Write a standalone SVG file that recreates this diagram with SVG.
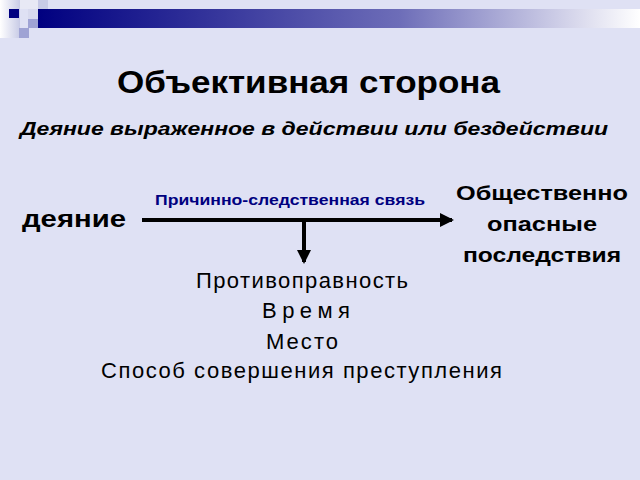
<svg xmlns="http://www.w3.org/2000/svg" width="640" height="480" viewBox="0 0 640 480">
<defs>
<linearGradient id="band" x1="0" x2="1" y1="0" y2="0"><stop offset="0" stop-color="#000080"/><stop offset="0.6" stop-color="#6d6db8"/><stop offset="1" stop-color="#ffffff"/></linearGradient>
<linearGradient id="lg" x1="0" x2="1"><stop offset="0" stop-color="#ffffff"/><stop offset="1" stop-color="#c8cbe6"/></linearGradient>
<marker id="ah" markerWidth="14" markerHeight="14" refX="12" refY="7" orient="auto" markerUnits="userSpaceOnUse" viewBox="0 0 14 14"><path d="M0,0 L14,7 L0,14 z" fill="#000"/></marker>
<style>
.b{font-family:"Liberation Sans",Arial,sans-serif;font-weight:bold;fill:#000}
.r{font-family:"Liberation Sans",Arial,sans-serif;fill:#000;font-size:22px}
</style>
</defs>
<rect width="640" height="480" fill="#dfe1f4"/>
<g id="deco">
<rect x="38" y="9" width="602" height="19" fill="url(#band)"/>
<rect x="0" y="0" width="20" height="38" fill="url(#lg)"/>
<rect x="20" y="0" width="18" height="9" fill="#e8e9f5"/>
<rect x="38" y="0" width="10" height="9" fill="#c8cbe6"/>
<rect x="28" y="9" width="10" height="10" fill="#d8daee"/>
<rect x="28" y="19" width="10" height="9" fill="#9fa3d4"/>
<rect x="19" y="28" width="10" height="10" fill="#9fa3d4"/>
<rect x="9" y="9" width="10" height="9" fill="#000080"/>
</g>
<g id="title"><text class="b" x="117" y="93" font-size="32" textLength="383" lengthAdjust="spacingAndGlyphs">Объективная сторона</text></g>
<g id="subtitle"><text class="b" x="20" y="135" font-size="19" font-style="italic" textLength="588" lengthAdjust="spacingAndGlyphs">Деяние выраженное в действии или бездействии</text></g>
<g id="node-deyanie"><text class="b" x="22" y="227" font-size="23" textLength="104" lengthAdjust="spacingAndGlyphs">деяние</text></g>
<g id="node-posl"><text class="b" font-size="21">
<tspan x="456" y="200" textLength="172" lengthAdjust="spacingAndGlyphs">Общественно</tspan>
<tspan x="487" y="231" textLength="110" lengthAdjust="spacingAndGlyphs">опасные</tspan>
<tspan x="463" y="262" textLength="158" lengthAdjust="spacingAndGlyphs">последствия</tspan></text></g>
<g id="label"><text class="b" x="155" y="205" font-size="14" style="fill:#000080" textLength="270" lengthAdjust="spacingAndGlyphs">Причинно-следственная связь</text></g>
<g id="connectors" stroke="#000" stroke-width="4">
<line x1="142" y1="220" x2="452" y2="220" marker-end="url(#ah)"/>
<line x1="304" y1="220" x2="304" y2="262" marker-end="url(#ah)"/>
</g>
<g id="list">
<text class="r" x="196" y="288" textLength="212">Противоправность</text>
<text class="r" x="262" y="318" textLength="88">Время</text>
<text class="r" x="266" y="349" textLength="72">Место</text>
<text class="r" x="101" y="378" textLength="401">Способ совершения преступления</text>
</g>
</svg>
